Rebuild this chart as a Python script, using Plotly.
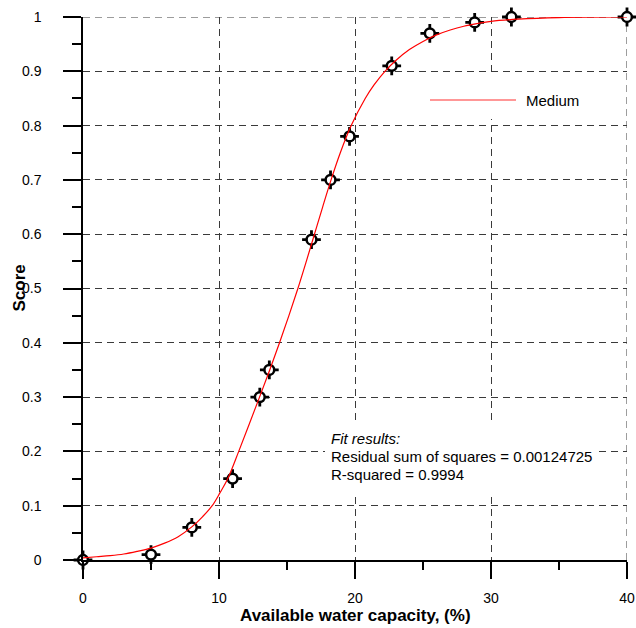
import plotly.graph_objects as go

# Observed scores against available water capacity
water_capacity = [0, 5, 8, 11, 13, 13.7, 16.8, 18.2, 19.6, 22.7, 25.5, 28.8, 31.5, 40]
score = [0, 0.01, 0.06, 0.15, 0.30, 0.35, 0.59, 0.70, 0.78, 0.91, 0.97, 0.99, 1.0, 1.0]

# Fitted "Medium" response curve
fit_x = [0, 1, 2, 3, 4, 5, 6, 7, 8, 8.8, 9.5, 10.1, 10.65, 11.45, 12.22, 12.98,
         13.73, 14.45, 15.14, 15.8, 16.42, 17.02, 17.62, 18.24, 18.92, 19.72,
         20.75, 21.4, 22.2, 23, 24, 25, 26, 27, 28, 29, 30, 32, 35, 40]
fit_y = [0.004, 0.006, 0.008, 0.011, 0.016, 0.022, 0.031, 0.043, 0.061, 0.08,
         0.10, 0.125, 0.15, 0.20, 0.25, 0.30, 0.35, 0.40, 0.45, 0.50, 0.55,
         0.60, 0.65, 0.70, 0.75, 0.80, 0.85, 0.875, 0.90, 0.92, 0.94, 0.955,
         0.967, 0.976, 0.983, 0.988, 0.992, 0.996, 0.999, 1.0]

x_ticks = [0, 10, 20, 30, 40]
x_minor = [5, 15, 25, 35]
y_ticks = [0, 0.1, 0.2, 0.3, 0.4, 0.5, 0.6, 0.7, 0.8, 0.9, 1.0]
y_tick_labels = ["0", "0.1", "0.2", "0.3", "0.4", "0.5", "0.6", "0.7", "0.8", "0.9", "1"]
y_minor = [0.05, 0.15, 0.25, 0.35, 0.45, 0.55, 0.65, 0.75, 0.85, 0.95]

x_title = "Available water capacity, (%)"
y_title = "Score"
fit_lines = ["<i>Fit results:</i>",
             "Residual sum of squares = 0.00124725",
             "R-squared = 0.9994"]
legend_label = "Medium"

FONT = "Arial, Liberation Sans, sans-serif"
W, H = 636, 628
L, R, T, B = 83, 9, 17, 68
X_RANGE = [0, 40]
Y_RANGE = [0, 1]
GRID = dict(color="#3a3a3a", width=1, dash="7px,5px")


def px_to_x(px):
    return X_RANGE[0] + (px - L) / (W - L - R) * (X_RANGE[1] - X_RANGE[0])


def px_to_y(py):
    return Y_RANGE[0] + (H - B - py) / (H - T - B) * (Y_RANGE[1] - Y_RANGE[0])


fig = go.Figure()

# error-bar style crosshair behind each point
fig.add_trace(go.Scatter(
    x=water_capacity, y=score, mode="markers", cliponaxis=False,
    marker=dict(symbol="cross-thin", size=13.4, color="black",
                line=dict(color="black", width=2.8)),
    hoverinfo="skip", showlegend=False))

# hollow circle marker
fig.add_trace(go.Scatter(
    x=water_capacity, y=score, mode="markers", cliponaxis=False,
    marker=dict(symbol="circle", size=9.8, color="white",
                line=dict(color="black", width=2.5)),
    showlegend=False))

# fitted curve
fig.add_trace(go.Scatter(
    x=fit_x, y=fit_y, mode="lines", cliponaxis=False,
    line=dict(color="#ff0000", width=1.2, shape="spline", smoothing=1.0),
    name=legend_label, showlegend=False))

axis_common = dict(
    showline=True, linecolor="black", linewidth=1.5, automargin=False,
    ticks="outside", tickcolor="black", tickwidth=1.5,
    showgrid=True, gridcolor=GRID["color"], gridwidth=GRID["width"],
    griddash=GRID["dash"], zeroline=False,
    tickfont=dict(family=FONT, size=14, color="black"),
)

fig.update_xaxes(
    **axis_common, range=X_RANGE, tickmode="array", tickvals=x_ticks,
    ticktext=[str(v) for v in x_ticks], ticklen=17, ticklabelstandoff=7,
    minor=dict(tickmode="array", tickvals=x_minor, ticks="outside", ticklen=8,
               tickwidth=1.5, tickcolor="black", showgrid=False),
)
fig.update_yaxes(
    **axis_common, range=Y_RANGE, tickmode="array", tickvals=y_ticks,
    ticktext=y_tick_labels, ticklen=18, ticklabelstandoff=19,
    minor=dict(tickmode="array", tickvals=y_minor, ticks="outside", ticklen=9,
               tickwidth=1.5, tickcolor="black", showgrid=False),
)

shapes = [
    # grid lines along the top and right edges of the plot area
    dict(type="line", xref="x", yref="y", layer="between",
         x0=X_RANGE[0], x1=X_RANGE[1], y0=Y_RANGE[1], y1=Y_RANGE[1], line=GRID),
    dict(type="line", xref="x", yref="y", layer="between",
         x0=X_RANGE[1], x1=X_RANGE[1], y0=Y_RANGE[0], y1=Y_RANGE[1], line=GRID),
    # blank panel behind the legend entry
    dict(type="rect", xref="x", yref="y", layer="between",
         x0=px_to_x(420), x1=px_to_x(600), y0=px_to_y(119), y1=px_to_y(77),
         fillcolor="white", line=dict(width=0)),
    # blank panel behind the fit summary
    dict(type="rect", xref="x", yref="y", layer="between",
         x0=px_to_x(325), x1=px_to_x(594), y0=px_to_y(497), y1=px_to_y(425),
         fillcolor="white", line=dict(width=0)),
    # legend line sample
    dict(type="line", xref="x", yref="y", layer="above",
         x0=px_to_x(430), x1=px_to_x(516), y0=px_to_y(100), y1=px_to_y(100),
         line=dict(color="#ff3030", width=1.2)),
]

annotations = [
    dict(text=legend_label, xref="x", yref="y", x=px_to_x(524), y=px_to_y(100),
         xanchor="left", yanchor="middle", showarrow=False,
         font=dict(family=FONT, size=15, color="black")),
    dict(text=f"<b>{x_title}</b>", xref="paper", yref="paper", x=0.5,
         y=(H - B - 615) / (H - T - B), xanchor="center", yanchor="middle",
         showarrow=False, font=dict(family=FONT, size=17, color="black")),
    dict(text=f"<b>{y_title}</b>", xref="paper", yref="paper", textangle=-90,
         x=(19 - L) / (W - L - R), y=0.5, xanchor="center", yanchor="middle",
         showarrow=False, font=dict(family=FONT, size=17, color="black")),
]
for i, line in enumerate(fit_lines):
    annotations.append(dict(
        text=line, xref="x", yref="y", x=px_to_x(329), y=px_to_y(438 + 18 * i),
        xanchor="left", yanchor="middle", align="left", showarrow=False,
        font=dict(family=FONT, size=15, color="black")))

fig.update_layout(
    width=W, height=H, margin=dict(l=L, r=R, t=T, b=B),
    paper_bgcolor="white", plot_bgcolor="white",
    font=dict(family=FONT, color="black"),
    shapes=shapes, annotations=annotations, showlegend=False,
)

fig.write_html("out.html")
